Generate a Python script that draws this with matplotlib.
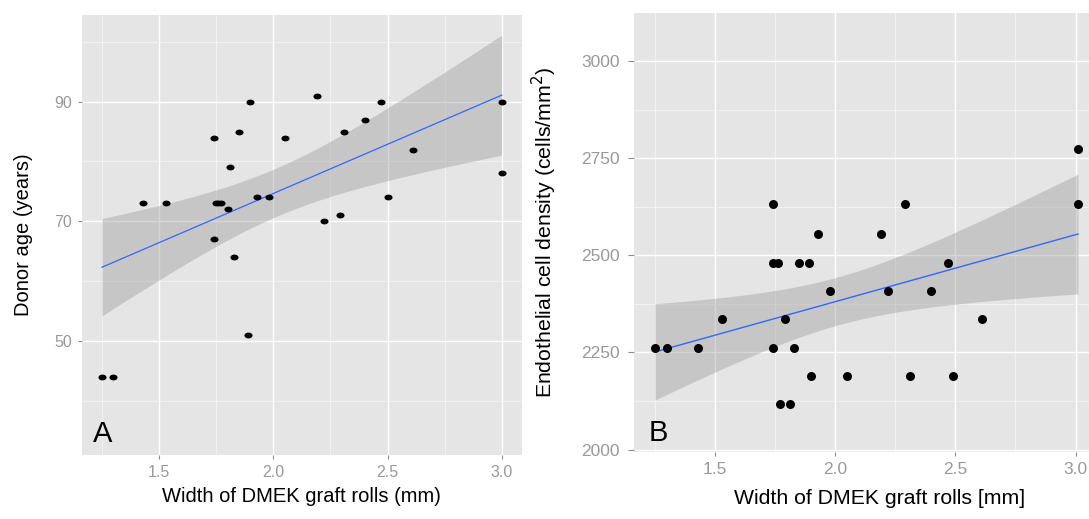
import numpy as np
import matplotlib
matplotlib.use("Agg")
import matplotlib.pyplot as plt
from matplotlib.path import Path
from matplotlib.transforms import Affine2D
from matplotlib.ticker import FixedLocator

plt.rcParams['font.family'] = ['Liberation Sans', 'DejaVu Sans']

# ---- data: panel A ----
width_a = [1.25, 1.30, 1.43, 1.53, 1.74, 1.75, 1.76, 1.77, 1.74, 1.80, 1.81, 1.83, 1.85, 1.89,
           1.90, 1.93, 1.98, 2.05, 2.19, 2.22, 2.29, 2.31, 2.40, 2.47, 2.50, 2.61, 3.00, 3.00]
age_a = [44, 44, 73, 73, 84, 73, 73, 73, 67, 72, 79, 64, 85, 51,
         90, 74, 74, 84, 91, 70, 71, 85, 87, 90, 74, 82, 90, 78]

# ---- data: panel B ----
width_b = [1.25, 1.30, 1.43, 1.53, 1.74, 1.74, 1.76, 1.74, 1.77, 1.81, 1.79, 1.83, 1.85, 1.89,
           1.90, 1.93, 1.98, 2.05, 2.19, 2.22, 2.29, 2.31, 2.40, 2.47, 2.49, 2.61, 3.01, 3.01]
ecd_b = [2262, 2262, 2262, 2335, 2631, 2481, 2481, 2262, 2116, 2116, 2335, 2262, 2481, 2481,
         2189, 2554, 2408, 2189, 2554, 2408, 2631, 2189, 2408, 2481, 2189, 2335, 2773, 2631]

xticks = [1.5, 2.0, 2.5, 3.0]
xtick_labels = ["1.5", "2.0", "2.5", "3.0"]
yticks_a = [50, 70, 90]
yticks_b = [2000, 2250, 2500, 2750, 3000]

T975_DF26 = 2.0555

W, H = 1089, 519
fig = plt.figure(figsize=(W / 100, H / 100), dpi=100)
fig.patch.set_facecolor('white')

def px_axes(x0, x1, ytop, ybot):
    return fig.add_axes([x0 / W, 1 - ybot / H, (x1 - x0) / W, (ybot - ytop) / H])

def lm_band(x, y):
    x = np.asarray(x, float); y = np.asarray(y, float)
    n = len(x)
    b, a = np.polyfit(x, y, 1)
    resid = y - (a + b * x)
    s = np.sqrt(np.sum(resid ** 2) / (n - 2))
    xbar = x.mean(); sxx = np.sum((x - xbar) ** 2)
    xs = np.linspace(x.min(), x.max(), 80)
    fit = a + b * xs
    se = s * np.sqrt(1 / n + (xs - xbar) ** 2 / sxx)
    return xs, fit, fit - T975_DF26 * se, fit + T975_DF26 * se

def style(ax, xminor, yminor, lsize, ylen, ypad):
    ax.set_facecolor('#E5E5E5')
    for sp in ax.spines.values():
        sp.set_visible(False)
    ax.set_axisbelow(True)
    ax.xaxis.set_minor_locator(FixedLocator(xminor))
    ax.yaxis.set_minor_locator(FixedLocator(yminor))
    ax.grid(which='minor', color='#F2F2F2', linewidth=0.7)
    ax.grid(which='major', color='white', linewidth=1.0)
    ax.tick_params(which='major', length=3, width=0.8, color='#8C8C8C',
                   labelcolor='#999999', labelsize=lsize, pad=4)
    ax.tick_params(axis='y', which='major', length=ylen, pad=ypad)
    ax.tick_params(which='minor', length=0)

ellipse = Path.unit_circle().transformed(Affine2D().scale(1.0, 0.72))

# ---- Panel A ----
axA = px_axes(82, 521.7, 15, 455)
style(axA, [1.25, 1.75, 2.25, 2.75], [40, 60, 80, 100], 11.5, 3, 4)
xs, fit, lo, hi = lm_band(width_a, age_a)
axA.fill_between(xs, lo, hi, color='#999999', alpha=0.4, linewidth=0, zorder=2)
axA.plot(xs, fit, color='#3366FF', linewidth=0.9, zorder=3)
axA.scatter(width_a, age_a, marker=ellipse, s=34, color='black', linewidths=0, zorder=4)
axA.set_xlim(1.1625, 3.0875)
axA.set_ylim(30.9, 104.5)
axA.set_xticks(xticks, xtick_labels)
axA.set_yticks(yticks_a, [str(v) for v in yticks_a])
axA.set_xlabel("Width of DMEK graft rolls (mm)", fontsize=14.5, va='top')
axA.xaxis.set_label_coords(0.5, -0.072)
axA.set_ylabel("Donor age (years)", fontsize=14.5)
axA.yaxis.set_label_coords(-0.111, 0.5)
axA.text(0.024, 0.030, "A", transform=axA.transAxes, fontsize=21,
         ha='left', va='baseline', color='black')

# ---- Panel B ----
axB = px_axes(634, 1096.6, 13.3, 452)
style(axB, [1.25, 1.75, 2.25, 2.75], [2125, 2375, 2625, 2875], 12.5, 4, 6)
xs, fit, lo, hi = lm_band(width_b, ecd_b)
axB.fill_between(xs, lo, hi, color='#999999', alpha=0.4, linewidth=0, zorder=2)
axB.plot(xs, fit, color='#3366FF', linewidth=1.0, zorder=3)
axB.scatter(width_b, ecd_b, s=42, color='black', linewidths=0, zorder=4)
axB.set_xlim(1.1625, 3.0875)
axB.set_ylim(1993.6, 3122.8)
axB.set_xticks(xticks, xtick_labels)
axB.set_yticks(yticks_b, [str(v) for v in yticks_b])
axB.set_xlabel("Width of DMEK graft rolls [mm]", fontsize=15.3, va='top')
axB.xaxis.set_label_coords(0.53, -0.085)
axB.set_ylabel("Endothelial cell density (cells/mm$^2$)", fontsize=15.3)
axB.yaxis.set_label_coords(-0.162, 0.5)
axB.text(0.031, 0.026, "B", transform=axB.transAxes, fontsize=21,
         ha='left', va='baseline', color='black')

fig.savefig("out.png", dpi=100, facecolor='white')
